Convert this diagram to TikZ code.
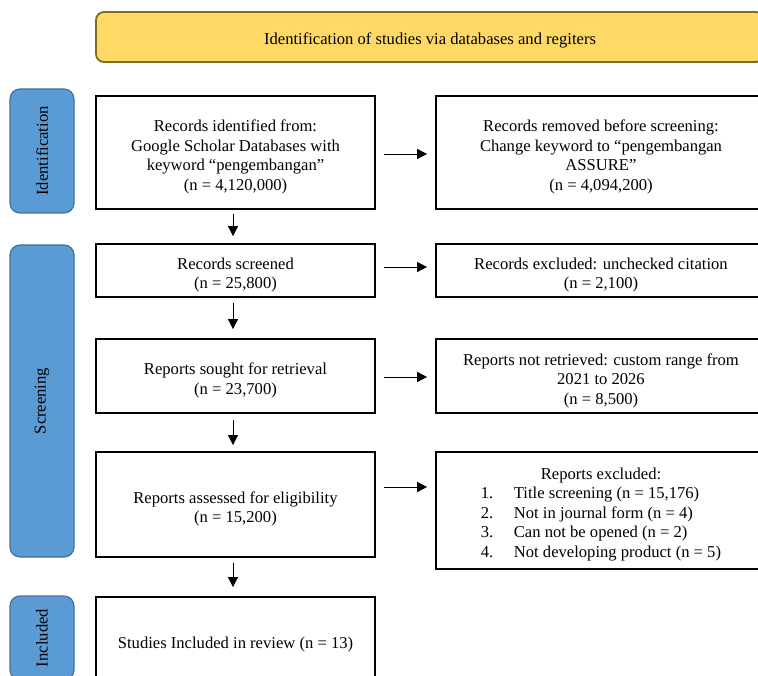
\documentclass[tikz,border=0pt]{standalone}
\usepackage{fontspec}
\setmainfont{Liberation Serif}
\usetikzlibrary{arrows.meta}
\definecolor{stageblue}{HTML}{5B9BD5}
\definecolor{stageline}{HTML}{41719C}
\definecolor{headyellow}{HTML}{FFD966}
\definecolor{headline}{HTML}{7F6A1E}
\newcommand{\lift}[1][21pt]{\rule{0pt}{#1}}
\tikzset{
  box/.style={draw=black,line width=1.8pt,align=center,inner sep=2pt,
    font=\fontsize{16.6}{19.5}\selectfont},
  stage/.style={draw=stageline,fill=stageblue,line width=1.2pt,rounded corners=10pt,
    minimum width=64pt,font=\fontsize{16.6}{19.5}\selectfont},
  flow/.style={-{Triangle[width=10pt,length=10pt]},line width=0.8pt}
}
\begin{document}
\begin{tikzpicture}[x=1pt,y=-1pt]
  \useasboundingbox (0,0) rectangle (758,676);
  \clip (0,0) rectangle (758,676);
  \node[box,draw=headline,fill=headyellow,rounded corners=8pt,minimum width=668pt,minimum height=50pt]
    (head) at (430,37) {\lift[18pt]Identification of studies via databases and regiters};
  \node[stage,minimum height=124pt] (ident) at (42,151) {\rotatebox{90}{Identification}};
  \node[stage,minimum height=312pt] (screen) at (42,401) {\rotatebox{90}{Screening}};
  \node[stage,minimum height=84pt] (incl) at (42,638) {\rotatebox{90}{Included}};
  \node[box,minimum width=279pt,minimum height=113pt] (found) at (235.5,152.5)
    {\lift Records identified from:\\Google Scholar Databases with\\keyword ``pengembangan''\\(n = 4,120,000)};
  \node[box,minimum width=279pt,minimum height=53pt] (screened) at (235.5,270.5)
    {\lift Records screened\\(n = 25,800)};
  \node[box,minimum width=279pt,minimum height=74pt] (sought) at (235.5,376)
    {\lift Reports sought for retrieval\\(n = 23,700)};
  \node[box,minimum width=279pt,minimum height=105pt] (assessed) at (235.5,504.5)
    {\lift Reports assessed for eligibility\\(n = 15,200)};
  \node[box,minimum width=279pt,minimum height=86pt] (studies) at (235.5,640)
    {\lift Studies Included in review (n = 13)};
  \node[box,minimum width=330pt,minimum height=113pt] (removed) at (601,152.5)
    {\lift Records removed before screening:\\Change keyword to ``pengembangan\\ASSURE''\\(n = 4,094,200)};
  \node[box,minimum width=330pt,minimum height=53pt] (unchecked) at (601,270.5)
    {\lift Records excluded: unchecked citation\\(n = 2,100)};
  \node[box,minimum width=330pt,minimum height=74pt] (notret) at (601,376)
    {\lift Reports not retrieved: custom range from\\2021 to 2026\\(n = 8,500)};
  \node[box,minimum width=330pt,minimum height=117pt] (excluded) at (601,510.5)
    {\begin{tabular}{@{}p{33pt}@{}l@{}}
      \multicolumn{2}{c}{\lift[21.6pt]Reports excluded:}\\
      1. & Title screening (n = 15,176)\\
      2. & Not in journal form (n = 4)\\
      3. & Can not be opened (n = 2)\\
      4. & Not developing product (n = 5)
    \end{tabular}};
  \draw[flow] ([xshift=-2.5pt,yshift=-4pt]found.south) -- ([xshift=-2.5pt,yshift=7pt]screened.north);
  \draw[flow] ([xshift=-2.5pt,yshift=-5pt]screened.south) -- ([xshift=-2.5pt,yshift=9pt]sought.north);
  \draw[flow] ([xshift=-2.5pt,yshift=-6pt]sought.south) -- ([xshift=-2.5pt,yshift=6pt]assessed.north);
  \draw[flow] ([xshift=-2.5pt,yshift=-5pt]assessed.south) -- ([xshift=-2.5pt,yshift=9pt]studies.north);
  \draw[flow] ([xshift=8pt,yshift=-1.5pt]found.east) -- ([xshift=-8pt,yshift=-1.5pt]removed.west);
  \draw[flow] ([xshift=8pt,yshift=3.5pt]screened.east) -- ([xshift=-8pt,yshift=3.5pt]unchecked.west);
  \draw[flow] ([xshift=8pt,yshift=-1pt]sought.east) -- ([xshift=-8pt,yshift=-1pt]notret.west);
  \draw[flow] ([xshift=8pt,yshift=17.5pt]assessed.east) -- ([xshift=-8pt,yshift=23.5pt]excluded.west);
\end{tikzpicture}
\end{document}
